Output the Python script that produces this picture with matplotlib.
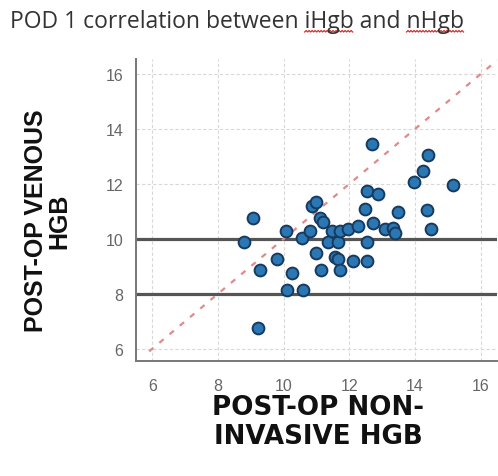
import numpy as np
import matplotlib
matplotlib.use("Agg")
import matplotlib.pyplot as plt

# POD 1 values
niv_hgb = [8.80, 9.08, 9.28, 9.22, 9.79, 10.08, 10.11, 10.26, 10.59, 10.57,
           10.79, 10.87, 10.98, 11.10, 11.20, 10.98, 11.15, 11.46, 11.35, 11.66,
           11.56, 11.66, 11.71, 11.71, 11.96, 12.12, 12.27, 12.47, 12.53, 12.53,
           12.54, 12.68, 12.71, 12.88, 13.09, 13.34, 13.39, 13.49, 13.98, 14.26,
           14.39, 14.36, 14.48, 15.17]
ven_hgb = [9.88, 10.75, 8.88, 6.75, 9.27, 10.27, 8.12, 8.76, 8.12, 10.02,
           10.30, 11.19, 11.33, 10.75, 10.62, 9.48, 8.88, 10.27, 9.88, 9.88,
           9.33, 9.25, 8.88, 10.30, 10.36, 9.18, 10.48, 11.09, 9.88, 9.18,
           11.76, 13.45, 10.57, 11.64, 10.36, 10.39, 10.22, 10.97, 12.06, 12.46,
           13.07, 11.05, 10.36, 11.96]
ref_levels = [10, 8]
ticks = [6, 8, 10, 12, 14, 16]
title = "POD 1 correlation between iHgb and nHgb"

fig = plt.figure(figsize=(4.98, 4.77), dpi=100)
ax = fig.add_axes([136/498, 1 - 362/477, 361/498, 302/477])

ax.set_xlim(5.5, 16.5)
ax.set_ylim(5.55, 16.55)
ax.set_xticks(ticks)
ax.set_yticks(ticks)
ax.grid(True, color="#d8d8d8", linewidth=0.8, linestyle=(0, (3, 2)))
ax.set_axisbelow(True)

for lv in ref_levels:
    ax.axhline(lv, color="#555555", linewidth=2.3, zorder=2)

ax.plot([5.9, 16.5], [5.9, 16.5], color="#e08a8a", linewidth=1.6,
        linestyle=(0, (2.5, 3.5)), zorder=2)

ax.scatter(niv_hgb, ven_hgb, s=72, color="#2a77b4", edgecolor="#173a5e",
           linewidth=1.4, zorder=3)

for side in ["top", "right"]:
    ax.spines[side].set_visible(False)
for side in ["left", "bottom"]:
    ax.spines[side].set_color("#777777")
    ax.spines[side].set_linewidth(1.4)

ax.tick_params(length=0, labelsize=11.5, labelcolor="#666666")
ax.tick_params(axis="x", pad=12)
ax.tick_params(axis="y", pad=9)
for lab in ax.get_xticklabels() + ax.get_yticklabels():
    lab.set_family("Liberation Sans")

fig.text(318/498, 1 - 423/477, "POST-OP NON-\nINVASIVE HGB", ha="center",
         va="center", fontsize=18.8, fontweight="bold", family="DejaVu Sans",
         color="#111111", linespacing=1.15)
fig.text(48/498, 1 - 221/477, "POST-OP VENOUS\nHGB", ha="center", va="center",
         rotation=90, fontsize=18, fontweight="bold", family="Liberation Sans",
         color="#111111", linespacing=0.95)

fs_title = 16.5
t = fig.text(10/498, 1 - 22/477, title, ha="left", va="center",
             fontsize=fs_title, family="Open Sans", color="#333333")

# red spell-check squiggles under iHgb and nHgb
fig.canvas.draw()
r = fig.canvas.get_renderer()
bb = t.get_window_extent(r)
def width_of(s):
    tmp = fig.text(0, 0, s, fontsize=fs_title, family="Open Sans")
    w = tmp.get_window_extent(r).width
    tmp.remove()
    return w
for word in ["iHgb", "nHgb"]:
    i = title.index(word)
    x0 = bb.x0 + width_of(title[:i])
    x1 = bb.x0 + width_of(title[:i + len(word)])
    xs = np.arange(x0, x1, 1.5)
    ys = bb.y0 + 1 + np.where(np.arange(len(xs)) % 2 == 0, 0, 1.5)
    fig.add_artist(plt.Line2D(xs / fig.bbox.width, ys / fig.bbox.height,
                              color="#d03030", linewidth=0.9,
                              transform=fig.transFigure))

fig.savefig("out.png", dpi=100)
